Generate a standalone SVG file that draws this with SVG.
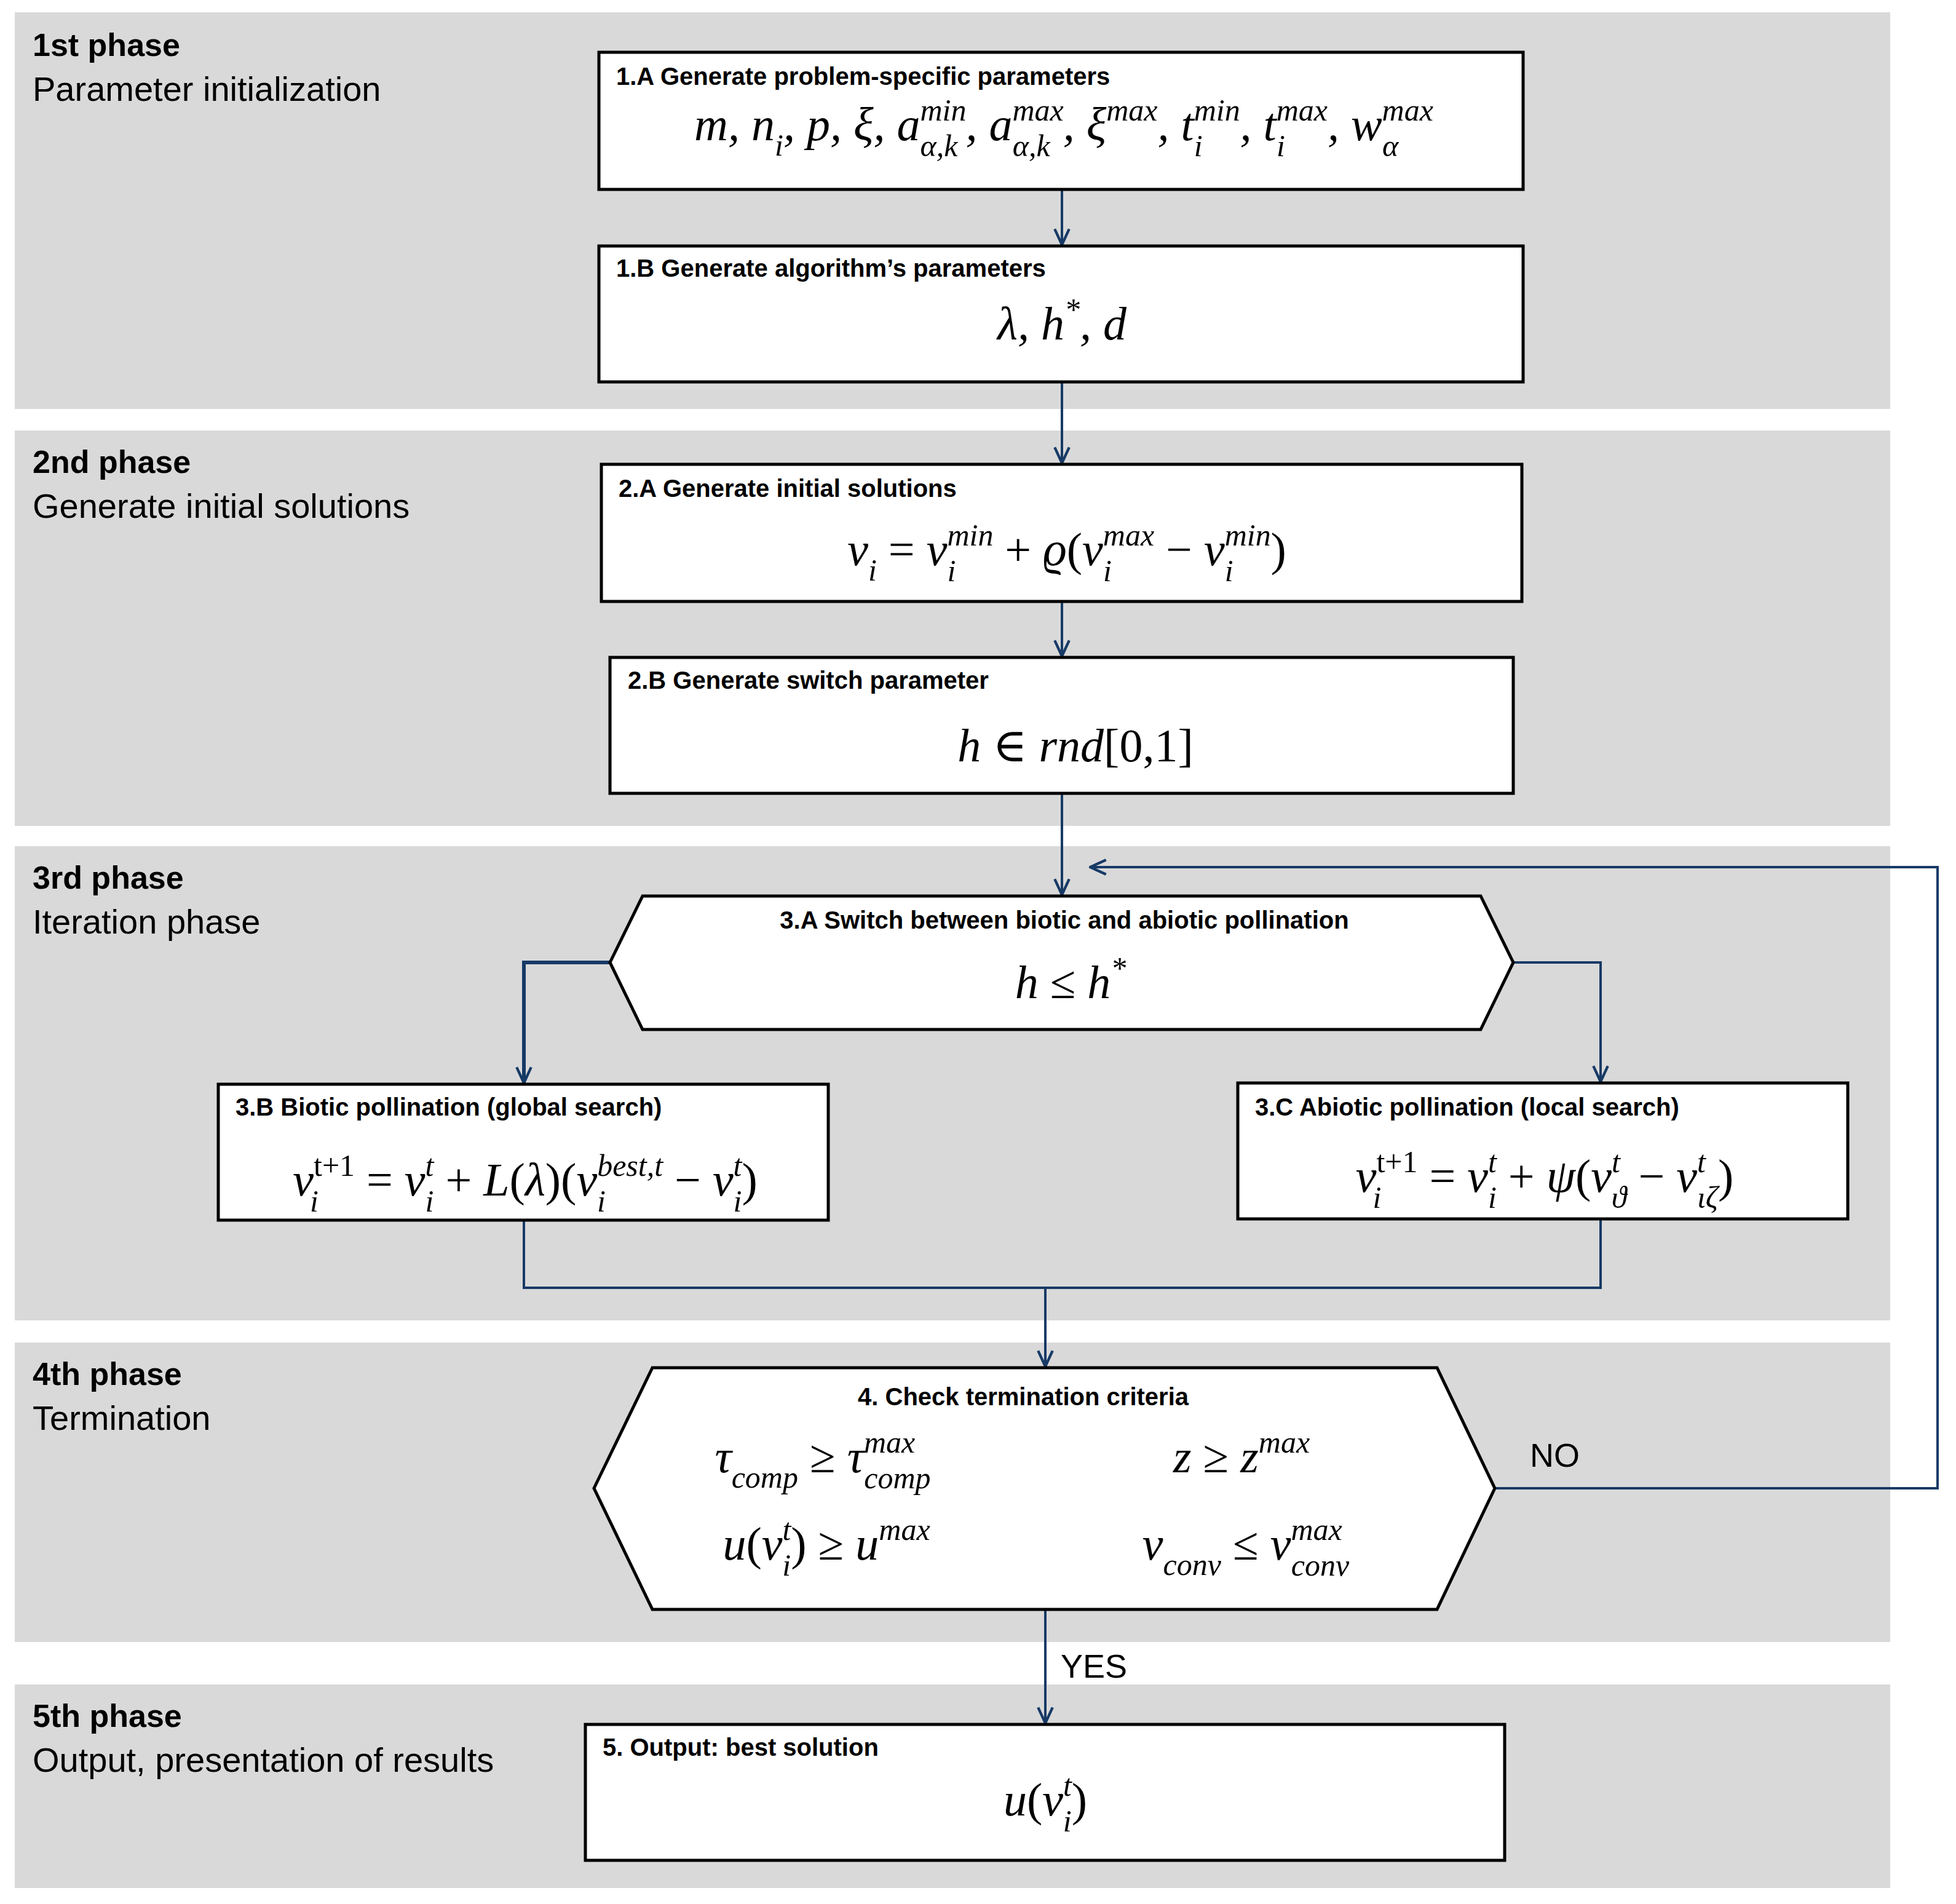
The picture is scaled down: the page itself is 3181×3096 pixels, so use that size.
<svg xmlns="http://www.w3.org/2000/svg" width="3181" height="3096" viewBox="0 0 3181 3096">
<style>
.band{fill:#d9d9d9}
.box{fill:#fff;stroke:#000;stroke-width:5}
.ph{font-family:"Liberation Sans",Arial,sans-serif;font-size:56px;fill:#000}
.phb{font-weight:bold;font-size:52px}
.t{font-family:"Liberation Sans",Arial,sans-serif;font-size:40px;font-weight:bold;fill:#000}
.m{font-family:"Liberation Serif","DejaVu Serif",serif;font-style:italic;font-size:76px;fill:#000}
.sc{font-size:50px}
.o{font-style:normal}
.c{fill:none;stroke:#173a66;stroke-width:4}
.lbl{font-family:"Liberation Sans",Arial,sans-serif;font-size:54px;fill:#000}
</style>
<defs>
<marker id="ah" markerUnits="userSpaceOnUse" markerWidth="30" markerHeight="30" refX="26" refY="13" viewBox="0 0 28 26" orient="auto">
<path d="M2,2 L26,13 L2,24" fill="none" stroke="#173a66" stroke-width="4"/>
</marker>
</defs>
<rect width="3181" height="3096" fill="#fff"/>
<g id="bands">
<rect class="band" x="24" y="20" width="3050" height="645"/>
<rect class="band" x="24" y="700" width="3050" height="643"/>
<rect class="band" x="24" y="1376" width="3050" height="771"/>
<rect class="band" x="24" y="2183" width="3050" height="487"/>
<rect class="band" x="24" y="2739" width="3050" height="331"/>
<text class="ph phb" x="53" y="91">1st phase</text><text class="ph" x="53" y="164">Parameter initialization</text>
<text class="ph phb" x="53" y="769">2nd phase</text><text class="ph" x="53" y="842">Generate initial solutions</text>
<text class="ph phb" x="53" y="1445">3rd phase</text><text class="ph" x="53" y="1518">Iteration phase</text>
<text class="ph phb" x="53" y="2252">4th phase</text><text class="ph" x="53" y="2325">Termination</text>
<text class="ph phb" x="53" y="2808">5th phase</text><text class="ph" x="53" y="2881">Output, presentation of results</text>
</g>
<g id="connectors">
<line class="c" x1="1727" y1="308" x2="1727" y2="398" marker-end="url(#ah)"/>
<line class="c" x1="1727" y1="621" x2="1727" y2="753" marker-end="url(#ah)"/>
<line class="c" x1="1727" y1="978" x2="1727" y2="1067" marker-end="url(#ah)"/>
<line class="c" x1="1727" y1="1290" x2="1727" y2="1455" marker-end="url(#ah)"/>
<polyline class="c" points="992,1565 852,1565 852,1761" marker-end="url(#ah)" style="stroke-width:6"/>
<polyline class="c" points="2461,1565 2603,1565 2603,1759" marker-end="url(#ah)"/>
<polyline class="c" points="852,1984 852,2094 2603,2094 2603,1982"/>
<line class="c" x1="1700" y1="2094" x2="1700" y2="2222" marker-end="url(#ah)"/>
<line class="c" x1="1700" y1="2617" x2="1700" y2="2802" marker-end="url(#ah)"/>
<polyline class="c" points="2431,2420 3151,2420 3151,1410 1773,1410" marker-end="url(#ah)"/>
<text class="lbl" x="1725" y="2728">YES</text>
<text class="lbl" x="2488" y="2385">NO</text>
</g>
<g id="n1A">
<rect class="box" x="974" y="85" width="1503" height="223"/>
<text class="t" x="1002" y="138">1.A Generate problem-specific  parameters</text>
<text class="m" x="1730" y="228" text-anchor="middle">m, n<tspan class="sc" dy="25">i</tspan><tspan dy="-25">, p, ξ, a</tspan><tspan class="sc" dy="-32">min</tspan><tspan class="sc" dx="-75" dy="58">α,k</tspan><tspan dx="13" dy="-26">, a</tspan><tspan class="sc" dy="-32">max</tspan><tspan class="sc" dx="-83" dy="58">α,k</tspan><tspan dx="21" dy="-26">, ξ</tspan><tspan class="sc" dy="-32">max</tspan><tspan dy="32">, t</tspan><tspan class="sc" dy="-32">min</tspan><tspan class="sc" dx="-75" dy="58">i</tspan><tspan dx="61" dy="-26">, t</tspan><tspan class="sc" dy="-32">max</tspan><tspan class="sc" dx="-83" dy="58">i</tspan><tspan dx="69" dy="-26">, w</tspan><tspan class="sc" dy="-32">max</tspan><tspan class="sc" dx="-83" dy="58">α</tspan></text>
</g>
<g id="n1B">
<rect class="box" x="974" y="400" width="1503" height="221"/>
<text class="t" x="1002" y="450">1.B Generate algorithm’s parameters</text>
<text class="m" x="1727" y="552" text-anchor="middle">λ, h<tspan class="sc" dy="-32">*</tspan><tspan dy="32">, d</tspan></text>
</g>
<g id="n2A">
<rect class="box" x="978" y="755" width="1497" height="223"/>
<text class="t" x="1006" y="808">2.A Generate initial solutions</text>
<text class="m" x="1735" y="919" text-anchor="middle">v<tspan class="sc" dy="25">i</tspan><tspan class="o" dy="-25"> = </tspan>v<tspan class="sc" dy="-32">min</tspan><tspan class="sc" dx="-75" dy="58">i</tspan><tspan class="o" dx="61" dy="-26"> + </tspan>ϱ<tspan class="o">(</tspan>v<tspan class="sc" dy="-32">max</tspan><tspan class="sc" dx="-83" dy="58">i</tspan><tspan class="o" dx="69" dy="-26"> − </tspan>v<tspan class="sc" dy="-32">min</tspan><tspan class="sc" dx="-75" dy="58">i</tspan><tspan class="o" dx="61" dy="-26">)</tspan></text>
</g>
<g id="n2B">
<rect class="box" x="992" y="1069" width="1469" height="221"/>
<text class="t" x="1021" y="1120">2.B Generate switch parameter</text>
<text class="m" x="1749" y="1238" text-anchor="middle">h <tspan class="o">∈</tspan> rnd<tspan class="o">[0,1]</tspan></text>
</g>
<g id="n3A">
<polygon class="box" points="992,1565 1045,1457 2408,1457 2461,1565 2408,1674 1045,1674"/>
<text class="t" x="1731" y="1510" text-anchor="middle">3.A Switch between biotic and abiotic pollination</text>
<text class="m" x="1741" y="1623" text-anchor="middle">h <tspan class="o">≤</tspan> h<tspan class="sc" dy="-32">*</tspan></text>
</g>
<g id="n3B">
<rect class="box" x="355" y="1763" width="992" height="221"/>
<text class="t" x="383" y="1814">3.B Biotic pollination  (global search)</text>
<text class="m" x="854" y="1944" text-anchor="middle">v<tspan class="sc o" dy="-32">t+1</tspan><tspan class="sc" dx="-73" dy="58">i</tspan><tspan class="o" dx="59" dy="-26"> = </tspan>v<tspan class="sc" dy="-32">t</tspan><tspan class="sc" dx="-14" dy="58">i</tspan><tspan class="o" dy="-26"> + </tspan>L<tspan class="o">(</tspan>λ<tspan class="o">)(</tspan>v<tspan class="sc" dy="-32">best,t</tspan><tspan class="sc" dx="-107" dy="58">i</tspan><tspan class="o" dx="93" dy="-26"> − </tspan>v<tspan class="sc" dy="-32">t</tspan><tspan class="sc" dx="-14" dy="58">i</tspan><tspan class="o" dy="-26">)</tspan></text>
</g>
<g id="n3C">
<rect class="box" x="2013" y="1761" width="992" height="221"/>
<text class="t" x="2041" y="1814">3.C Abiotic pollination  (local search)</text>
<text class="m" x="2512" y="1938" text-anchor="middle">v<tspan class="sc o" dy="-32">t+1</tspan><tspan class="sc" dx="-73" dy="58">i</tspan><tspan class="o" dx="59" dy="-26"> = </tspan>v<tspan class="sc" dy="-32">t</tspan><tspan class="sc" dx="-14" dy="58">i</tspan><tspan class="o" dy="-26"> + </tspan>ψ<tspan class="o">(</tspan>v<tspan class="sc" dy="-32">t</tspan><tspan class="sc" dx="-14" dy="58">ϑ</tspan><tspan class="o" dy="-26"> − </tspan>v<tspan class="sc" dy="-32">t</tspan><tspan class="sc" dx="-14" dy="58">ιζ</tspan><tspan class="o" dy="-26">)</tspan></text>
</g>
<g id="n4">
<polygon class="box" points="966,2420 1061,2224 2337,2224 2431,2420 2337,2617 1061,2617"/>
<text class="t" x="1664" y="2285" text-anchor="middle">4. Check termination criteria</text>
<text class="m" x="1338" y="2394" text-anchor="middle">τ<tspan class="sc" dy="25">comp</tspan><tspan class="o" dy="-25"> ≥ </tspan>τ<tspan class="sc" dy="-32">max</tspan><tspan class="sc" dx="-83" dy="58">comp</tspan></text>
<text class="m" x="2019" y="2394" text-anchor="middle">z <tspan class="o">≥</tspan> z<tspan class="sc" dy="-32">max</tspan></text>
<text class="m" x="1344" y="2536" text-anchor="middle">u<tspan class="o">(</tspan>v<tspan class="sc" dy="-32">t</tspan><tspan class="sc" dx="-14" dy="58">i</tspan><tspan class="o" dy="-26">) ≥ </tspan>u<tspan class="sc" dy="-32">max</tspan></text>
<text class="m" x="2026" y="2536" text-anchor="middle">v<tspan class="sc" dy="25">conv</tspan><tspan class="o" dy="-25"> ≤ </tspan>v<tspan class="sc" dy="-32">max</tspan><tspan class="sc" dx="-83" dy="58">conv</tspan></text>
</g>
<g id="n5">
<rect class="box" x="952" y="2804" width="1495" height="221"/>
<text class="t" x="980" y="2855">5. Output: best solution</text>
<text class="m" x="1700" y="2952" text-anchor="middle">u<tspan class="o">(</tspan>v<tspan class="sc" dy="-32">t</tspan><tspan class="sc" dx="-14" dy="58">i</tspan><tspan class="o" dy="-26">)</tspan></text>
</g>
</svg>
